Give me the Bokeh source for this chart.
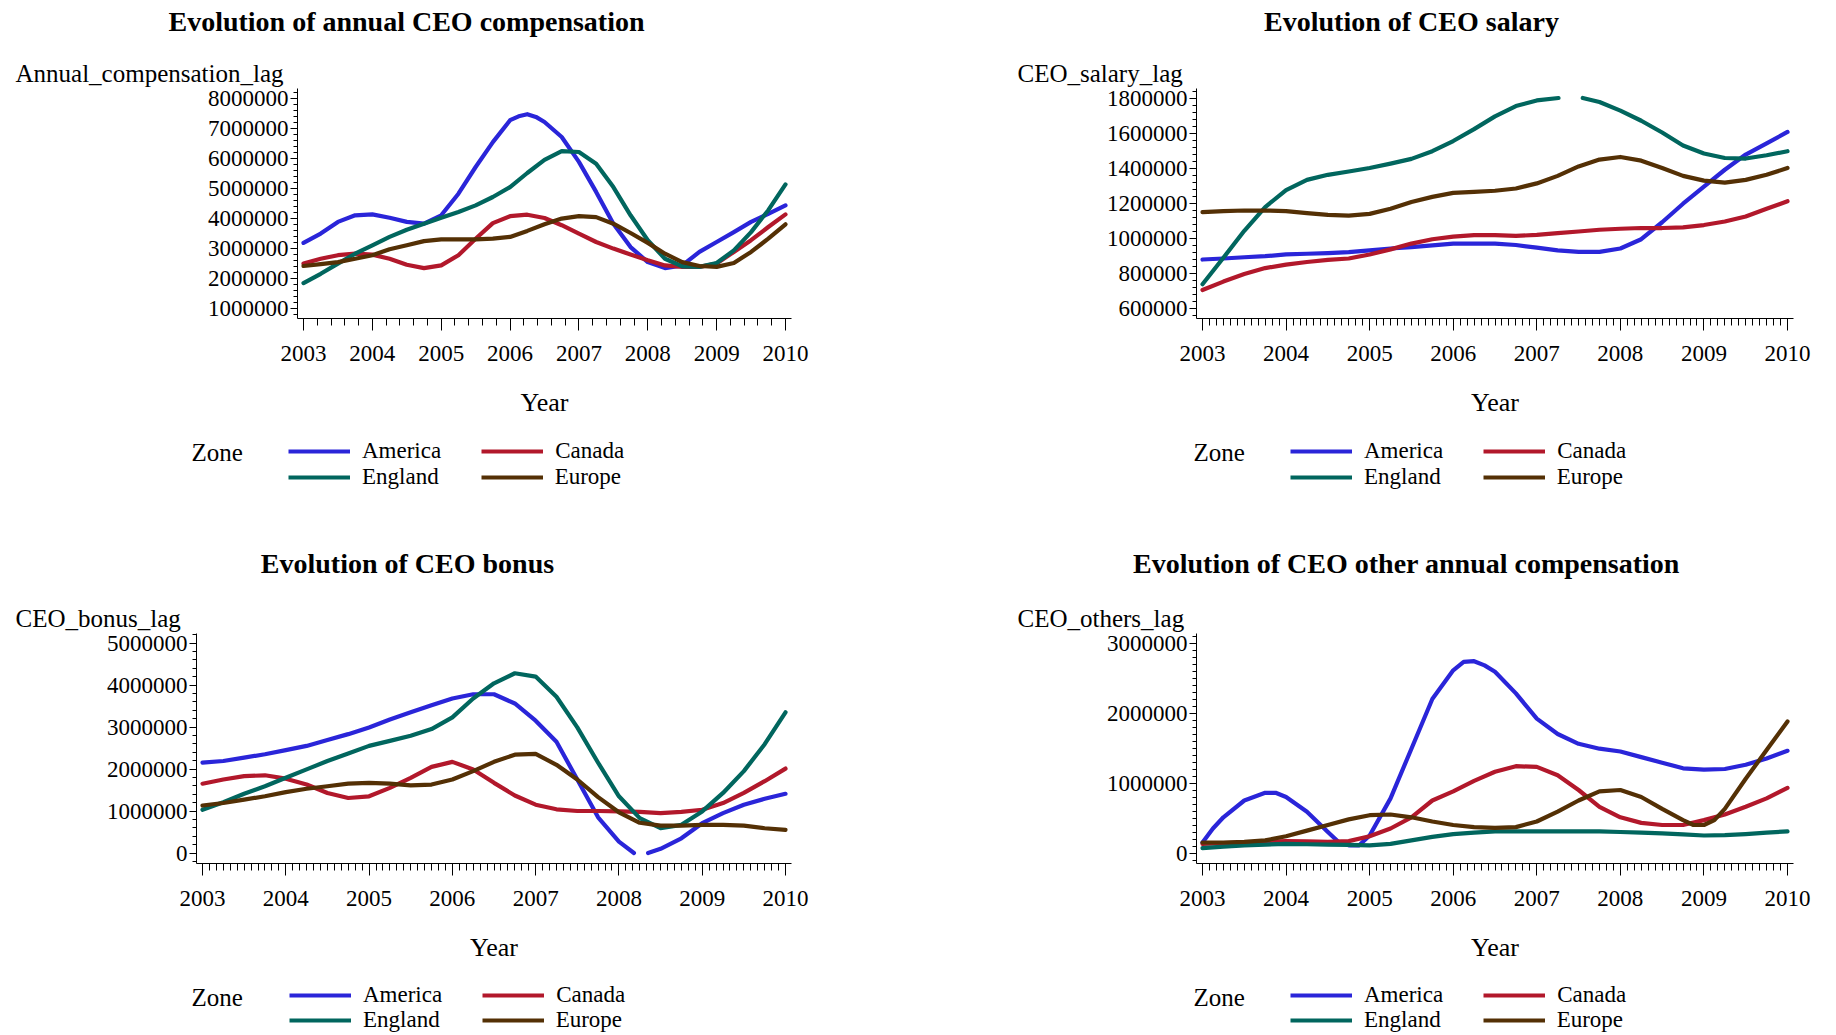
import math
from bokeh.plotting import figure
from bokeh.models import (Label, Legend, LegendItem, SingleIntervalTicker,
                          BasicTickFormatter, Range1d)
from bokeh.layouts import row, column
from bokeh.embed import file_html
from bokeh.resources import INLINE

NaN = float("nan")

# ---------------- data ----------------
YEARS = [2003.0, 2003.25, 2003.5, 2003.75, 2004.0, 2004.25, 2004.5, 2004.75,
         2005.0, 2005.25, 2005.5, 2005.75, 2006.0, 2006.25, 2006.5, 2006.75,
         2007.0, 2007.25, 2007.5, 2007.75, 2008.0, 2008.25, 2008.5, 2008.75,
         2009.0, 2009.25, 2009.5, 2009.75, 2010.0]

ZONES = ["America", "Canada", "England", "Europe"]
ZONE_COLORS = ["#2A25D9", "#B2182B", "#01665E", "#543005"]

# Panel 1: annual compensation
COMP_AMERICA_YEARS = [2003.0, 2003.25, 2003.5, 2003.75, 2004.0, 2004.25, 2004.5, 2004.75,
                      2005.0, 2005.25, 2005.5, 2005.75, 2006.0, 2006.125, 2006.25, 2006.375,
                      2006.5, 2006.75, 2007.0, 2007.25, 2007.5, 2007.75, 2008.0, 2008.25,
                      2008.5, 2008.75, 2009.0, 2009.25, 2009.5, 2009.75, 2010.0]
COMP_AMERICA = [3170000, 3480000, 3870000, 4090000, 4120000, 4010000, 3870000, 3810000,
                4090000, 4810000, 5700000, 6530000, 7260000, 7390000, 7460000, 7370000,
                7200000, 6700000, 5870000, 4870000, 3810000, 3030000, 2530000, 2330000,
                2420000, 2870000, 3200000, 3530000, 3870000, 4140000, 4420000]
COMP_CANADA = [2480000, 2640000, 2760000, 2810000, 2780000, 2640000, 2440000, 2330000,
               2420000, 2760000, 3310000, 3830000, 4060000, 4110000, 4000000, 3760000,
               3480000, 3200000, 2980000, 2780000, 2590000, 2420000, 2370000, 2370000,
               2480000, 2870000, 3260000, 3700000, 4120000]
COMP_ENGLAND = [1830000, 2140000, 2480000, 2810000, 3090000, 3370000, 3610000, 3810000,
                4010000, 4200000, 4420000, 4700000, 5030000, 5500000, 5940000, 6230000,
                6200000, 5810000, 5030000, 4090000, 3260000, 2640000, 2390000, 2370000,
                2500000, 2920000, 3530000, 4260000, 5120000]
COMP_EUROPE = [2400000, 2460000, 2530000, 2640000, 2760000, 2960000, 3090000, 3230000,
               3290000, 3290000, 3290000, 3310000, 3370000, 3570000, 3790000, 3980000,
               4060000, 4030000, 3810000, 3500000, 3170000, 2810000, 2530000, 2400000,
               2370000, 2500000, 2870000, 3310000, 3790000]

# Panel 2: salary
SAL_AMERICA = [877000, 883000, 890000, 896000, 906000, 910000, 914000, 919000,
               929000, 940000, 948000, 958000, 968000, 968000, 968000, 960000,
               945000, 929000, 921000, 921000, 940000, 993000, 1090000, 1196000,
               1293000, 1390000, 1477000, 1541000, 1606000]
SAL_CANADA = [703000, 751000, 794000, 828000, 848000, 863000, 875000, 883000,
              906000, 935000, 968000, 993000, 1008000, 1016000, 1016000, 1012000,
              1018000, 1028000, 1037000, 1047000, 1053000, 1057000, 1057000, 1061000,
              1074000, 1094000, 1123000, 1167000, 1210000]
SAL_ENGLAND_YEARS = [2003.0, 2003.25, 2003.5, 2003.75, 2004.0, 2004.25, 2004.5, 2004.75,
                     2005.0, 2005.25, 2005.5, 2005.75, 2006.0, 2006.25, 2006.5, 2006.75,
                     2007.0, 2007.26, 2007.4, 2007.55, 2007.75, 2008.0, 2008.25, 2008.5,
                     2008.75, 2009.0, 2009.25, 2009.5, 2009.75, 2010.0]
SAL_ENGLAND = [736000, 887000, 1041000, 1177000, 1274000, 1332000, 1361000, 1380000,
               1400000, 1425000, 1452000, 1496000, 1554000, 1622000, 1695000, 1754000,
               1786000, 1800000, NaN, 1800000, 1777000, 1728000, 1670000, 1603000,
               1529000, 1483000, 1457000, 1454000, 1473000, 1496000]
SAL_EUROPE = [1148000, 1154000, 1157000, 1157000, 1154000, 1142000, 1132000, 1128000,
              1138000, 1167000, 1206000, 1235000, 1258000, 1264000, 1270000, 1283000,
              1312000, 1355000, 1409000, 1448000, 1463000, 1442000, 1400000, 1355000,
              1328000, 1316000, 1332000, 1361000, 1400000]

# Panel 3: bonus
BON_AMERICA_YEARS = [2003.0, 2003.25, 2003.5, 2003.75, 2004.0, 2004.25, 2004.5, 2004.75,
                     2005.0, 2005.25, 2005.5, 2005.75, 2006.0, 2006.25, 2006.5, 2006.75,
                     2007.0, 2007.25, 2007.5, 2007.75, 2008.0, 2008.18, 2008.26, 2008.35,
                     2008.5, 2008.75, 2009.0, 2009.25, 2009.5, 2009.75, 2010.0]
BON_AMERICA = [2150000, 2190000, 2270000, 2350000, 2450000, 2550000, 2690000, 2830000,
               2990000, 3180000, 3350000, 3520000, 3680000, 3780000, 3780000, 3560000,
               3150000, 2650000, 1750000, 850000, 270000, 0, NaN, 0,
               100000, 350000, 710000, 950000, 1150000, 1290000, 1410000]
BON_CANADA = [1650000, 1750000, 1830000, 1850000, 1770000, 1630000, 1430000, 1310000,
              1350000, 1550000, 1790000, 2050000, 2170000, 1990000, 1670000, 1370000,
              1150000, 1040000, 1000000, 1000000, 990000, 980000, 950000, 980000,
              1030000, 1190000, 1430000, 1710000, 2010000]
BON_ENGLAND = [1030000, 1210000, 1410000, 1590000, 1790000, 1990000, 2190000, 2370000,
               2550000, 2670000, 2790000, 2950000, 3230000, 3680000, 4040000, 4280000,
               4200000, 3720000, 2990000, 2150000, 1350000, 830000, 590000, 670000,
               990000, 1430000, 1950000, 2590000, 3350000]
BON_EUROPE = [1130000, 1190000, 1270000, 1350000, 1450000, 1530000, 1590000, 1650000,
              1670000, 1650000, 1610000, 1630000, 1750000, 1950000, 2170000, 2340000,
              2360000, 2100000, 1750000, 1330000, 970000, 720000, 650000, 650000,
              670000, 670000, 650000, 590000, 550000]

# Panel 4: other annual compensation
OTH_AMERICA_YEARS = [2003.0, 2003.125, 2003.25, 2003.5, 2003.75, 2003.875, 2004.0, 2004.25,
                     2004.5, 2004.625, 2004.75, 2004.875, 2005.0, 2005.25, 2005.5, 2005.75,
                     2006.0, 2006.125, 2006.25, 2006.375, 2006.5, 2006.75, 2007.0, 2007.25,
                     2007.5, 2007.75, 2008.0, 2008.25, 2008.5, 2008.75, 2009.0, 2009.25,
                     2009.5, 2009.75, 2010.0]
OTH_AMERICA = [150000, 350000, 510000, 750000, 860000, 860000, 800000, 590000,
               300000, 160000, 110000, 110000, 250000, 780000, 1490000, 2200000,
               2610000, 2730000, 2740000, 2680000, 2590000, 2280000, 1920000, 1700000,
               1560000, 1490000, 1450000, 1370000, 1290000, 1210000, 1190000, 1200000,
               1260000, 1350000, 1460000]
OTH_CANADA = [130000, 140000, 150000, 160000, 170000, 165000, 160000, 170000,
              240000, 350000, 510000, 750000, 880000, 1030000, 1160000, 1240000,
              1230000, 1110000, 900000, 660000, 510000, 430000, 400000, 400000,
              470000, 550000, 660000, 780000, 930000]
OTH_ENGLAND = [70000, 90000, 110000, 120000, 130000, 125000, 120000, 115000,
               110000, 130000, 180000, 230000, 270000, 290000, 310000, 310000,
               310000, 310000, 310000, 310000, 300000, 290000, 280000, 265000,
               250000, 255000, 270000, 290000, 310000]
OTH_EUROPE_YEARS = [2003.0, 2003.25, 2003.5, 2003.75, 2004.0, 2004.25, 2004.5, 2004.75,
                    2005.0, 2005.25, 2005.5, 2005.75, 2006.0, 2006.25, 2006.5, 2006.75,
                    2007.0, 2007.25, 2007.5, 2007.75, 2008.0, 2008.25, 2008.5, 2008.75,
                    2008.875, 2009.0, 2009.125, 2009.25, 2009.5, 2009.75, 2010.0]
OTH_EUROPE = [150000, 150000, 160000, 180000, 240000, 320000, 400000, 480000,
              540000, 550000, 510000, 450000, 400000, 370000, 360000, 370000,
              450000, 590000, 750000, 880000, 900000, 800000, 630000, 470000,
              400000, 400000, 470000, 630000, 1060000, 1470000, 1880000]

PANELS = [
    dict(title="Evolution of annual CEO compensation", ylabel="Annual_compensation_lag",
         series=[(COMP_AMERICA_YEARS, COMP_AMERICA), (YEARS, COMP_CANADA),
                 (YEARS, COMP_ENGLAND), (YEARS, COMP_EUROPE)],
         ticks=(1000000, 8000000, 1000000), y_minor=5, x_minor=5),
    dict(title="Evolution of CEO salary", ylabel="CEO_salary_lag",
         series=[(YEARS, SAL_AMERICA), (YEARS, SAL_CANADA),
                 (SAL_ENGLAND_YEARS, SAL_ENGLAND), (YEARS, SAL_EUROPE)],
         ticks=(600000, 1800000, 200000), y_minor=5, x_minor=12),
    dict(title="Evolution of CEO bonus", ylabel="CEO_bonus_lag",
         series=[(BON_AMERICA_YEARS, BON_AMERICA), (YEARS, BON_CANADA),
                 (YEARS, BON_ENGLAND), (YEARS, BON_EUROPE)],
         ticks=(0, 5000000, 1000000), y_minor=5, x_minor=12),
    dict(title="Evolution of CEO other annual compensation", ylabel="CEO_others_lag",
         series=[(OTH_AMERICA_YEARS, OTH_AMERICA), (YEARS, OTH_CANADA),
                 (YEARS, OTH_ENGLAND), (OTH_EUROPE_YEARS, OTH_EUROPE)],
         ticks=(0, 3000000, 1000000), y_minor=10, x_minor=12),
]

# ---------------- layout (pixels) ----------------
FONT = "Liberation Serif"
FRAME_H = 230
LAYOUT = [
    dict(w=988, bl=297, fw=494, bt=88, bb=112, title=(406, 21), ylab=(15, 73),
         lh=78, zone=(191, 22), lx=288, c1=21.0, c2=47.0),
    dict(w=847, bl=208, fw=597, bt=88, bb=112, title=(423, 21), ylab=(29, 73),
         lh=78, zone=(205, 22), lx=302, c1=21.0, c2=47.0),
    dict(w=988, bl=196, fw=595, bt=125, bb=112, title=(407, 55), ylab=(15, 110),
         lh=59, zone=(191, 22), lx=289, c1=20.0, c2=45.3),
    dict(w=847, bl=208, fw=597, bt=125, bb=112, title=(418, 55), ylab=(29, 110),
         lh=59, zone=(205, 22), lx=302, c1=20.0, c2=45.3),
]


def make_panel(spec, lay):
    tmin, tmax, tstep = spec["ticks"]
    ppv = (FRAME_H - 20) / (tmax - tmin)
    y0 = tmin - 10.5 / ppv
    y1 = tmax + 9.5 / ppv
    ppy = (lay["fw"] - 12) / 7.0
    x0 = 2003 - 6 / ppy
    x1 = 2010 + 6 / ppy
    br = lay["w"] - lay["bl"] - lay["fw"]
    p = figure(frame_width=lay["fw"], frame_height=FRAME_H,
               x_range=Range1d(x0, x1), y_range=Range1d(y0, y1),
               min_border_left=lay["bl"], min_border_right=br,
               min_border_top=lay["bt"], min_border_bottom=lay["bb"],
               output_backend="svg", toolbar_location=None, title=None)
    p.outline_line_color = None
    p.xgrid.visible = False
    p.ygrid.visible = False
    p.background_fill_color = "white"
    p.border_fill_color = "white"

    xa = p.xaxis[0]
    ya = p.yaxis[0]
    xa.ticker = SingleIntervalTicker(interval=1, num_minor_ticks=spec["x_minor"])
    ya.ticker = SingleIntervalTicker(interval=tstep, num_minor_ticks=spec["y_minor"])
    xa.formatter = BasicTickFormatter(use_scientific=False)
    ya.formatter = BasicTickFormatter(use_scientific=False)
    for ax in (xa, ya):
        ax.axis_line_color = "black"
        ax.axis_line_width = 1
        ax.major_tick_line_color = "black"
        ax.minor_tick_line_color = "black"
        ax.major_tick_in = 0
        ax.minor_tick_in = 0
        ax.major_label_text_font = FONT
        ax.major_label_text_font_size = "23px"
        ax.major_label_text_color = "black"
    xa.major_tick_out = 12
    xa.minor_tick_out = 7
    xa.major_label_standoff = 15
    ya.major_tick_out = 7
    ya.minor_tick_out = 4
    ya.major_label_standoff = 2
    xa.axis_label = "Year"
    xa.axis_label_text_font = FONT
    xa.axis_label_text_font_style = "normal"
    xa.axis_label_text_font_size = "26px"
    xa.axis_label_text_color = "black"
    xa.axis_label_standoff = 24

    for (xs, ys), color in zip(spec["series"], ZONE_COLORS):
        p.line(xs, ys, line_color=color, line_width=4.2, line_join="round", line_cap="round")

    p.add_layout(Label(x=lay["title"][0], y=lay["title"][1], x_units="canvas", y_units="canvas",
                       text=spec["title"], text_align="center", text_baseline="middle",
                       text_font=FONT, text_font_style="bold", text_font_size="28px",
                       text_color="black"), "above")
    p.add_layout(Label(x=lay["ylab"][0], y=lay["ylab"][1], x_units="canvas", y_units="canvas",
                       text=spec["ylabel"], text_align="left", text_baseline="middle",
                       text_font=FONT, text_font_size="25px", text_color="black"), "above")

    # legend strip below the chart (its own figure, so nothing gets clipped)
    lh = lay["lh"]
    lg = figure(width=lay["w"], height=lh, x_range=Range1d(x0, x1), y_range=Range1d(y0, y1),
                min_border=0, x_axis_type=None, y_axis_type=None,
                output_backend="svg", toolbar_location=None, title=None)
    lg.outline_line_color = None
    lg.xgrid.visible = False
    lg.ygrid.visible = False
    rends = []
    for (xs, ys), color in zip(spec["series"], ZONE_COLORS):
        r = lg.line(xs, ys, line_color=color, line_width=4, visible=False)
        rends.append(r)

    common = dict(orientation="horizontal", padding=0, margin=0,
                  glyph_width=62, glyph_height=26, label_height=26,
                  label_standoff=12, border_line_color=None, background_fill_alpha=0,
                  inactive_fill_alpha=0,
                  label_text_font=FONT, label_text_font_size="23px", label_text_color="black")
    leg1 = Legend(items=[LegendItem(label=ZONES[0], renderers=[rends[0]]),
                         LegendItem(label=ZONES[1], renderers=[rends[1]])],
                  location=(lay["lx"], lh - (lay["c1"] + 13)), spacing=40, **common)
    leg2 = Legend(items=[LegendItem(label=ZONES[2], renderers=[rends[2]]),
                         LegendItem(label=ZONES[3], renderers=[rends[3]])],
                  location=(lay["lx"], lh - (lay["c2"] + 13)), spacing=42, **common)
    lg.add_layout(leg1)
    lg.add_layout(leg2)
    lg.add_layout(Label(x=lay["zone"][0], y=lay["zone"][1], x_units="canvas", y_units="canvas",
                        text="Zone", text_align="left", text_baseline="middle",
                        text_font=FONT, text_font_size="25px", text_color="black"))
    return p, lg


built = [make_panel(s, l) for s, l in zip(PANELS, LAYOUT)]
page = column(row(built[0][0], built[1][0]), row(built[0][1], built[1][1]),
              row(built[2][0], built[3][0]), row(built[2][1], built[3][1]))

open("out.html", "w").write(file_html(page, INLINE))
